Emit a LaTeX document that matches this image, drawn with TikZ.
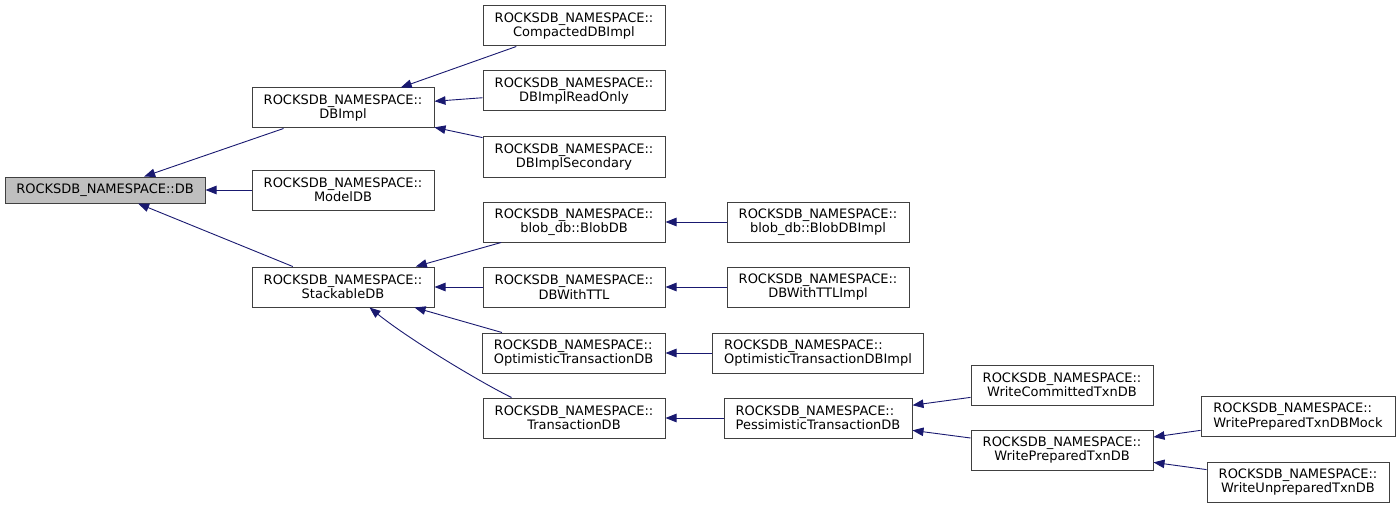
\documentclass[tikz,border=0pt]{standalone}
\usepackage{fontspec}
\setmainfont{DejaVu Sans}
\usetikzlibrary{arrows.meta,calc}
\definecolor{edgeblue}{RGB}{25,25,112}
\definecolor{boxline}{RGB}{64,64,64}
\definecolor{dbgray}{RGB}{191,191,191}
\begin{document}
\begin{tikzpicture}[x=1pt,y=-1pt,
  box/.style={draw=boxline, line width=1pt, fill=white, rectangle, inner sep=0pt,
    minimum width=182pt, minimum height=40pt, align=center,
    font=\fontsize{13}{14.5}\selectfont},
  lbox/.style={box, align=left},
  inh/.style={draw=edgeblue, line width=0.9pt, -{Triangle[length=11pt,width=8.5pt,fill=edgeblue]}}]
\useasboundingbox (0,0) rectangle (1400,508);
\node[box, fill=dbgray, minimum width=200pt, minimum height=26pt] (db) at (105,190) {ROCKSDB\_NAMESPACE::DB};
\node[box] (dbimpl) at (343,108) {ROCKSDB\_NAMESPACE::\\DBImpl};
\node[box] (modeldb) at (343,190) {ROCKSDB\_NAMESPACE::\\ModelDB};
\node[box] (stack) at (343,287) {ROCKSDB\_NAMESPACE::\\StackableDB};
\node[box] (compacted) at (574,26) {ROCKSDB\_NAMESPACE::\\CompactedDBImpl};
\node[box] (readonly) at (574,91) {ROCKSDB\_NAMESPACE::\\DBImplReadOnly};
\node[box] (secondary) at (574,157) {ROCKSDB\_NAMESPACE::\\DBImplSecondary};
\node[box] (blobdb) at (574,222) {ROCKSDB\_NAMESPACE::\\blob\_db::BlobDB};
\node[box] (ttl) at (574,287) {ROCKSDB\_NAMESPACE::\\DBWithTTL};
\node[lbox, minimum width=183pt] (optim) at (573.5,353) {ROCKSDB\_NAMESPACE::\\OptimisticTransactionDB};
\node[box] (trans) at (574,418) {ROCKSDB\_NAMESPACE::\\TransactionDB};
\node[box] (blobimpl) at (818,222) {ROCKSDB\_NAMESPACE::\\blob\_db::BlobDBImpl};
\node[box] (ttlimpl) at (818,287) {ROCKSDB\_NAMESPACE::\\DBWithTTLImpl};
\node[lbox, minimum width=211pt] (optimimpl) at (818,353) {ROCKSDB\_NAMESPACE::\\OptimisticTransactionDBImpl};
\node[lbox, minimum width=188pt] (pessim) at (818,418) {ROCKSDB\_NAMESPACE::\\PessimisticTransactionDB};
\node[box] (wcommit) at (1062,385) {ROCKSDB\_NAMESPACE::\\WriteCommittedTxnDB};
\node[box] (wprep) at (1062,450) {ROCKSDB\_NAMESPACE::\\WritePreparedTxnDB};
\node[lbox, minimum width=194pt] (wmock) at (1298,416.5) {ROCKSDB\_NAMESPACE::\\WritePreparedTxnDBMock};
\node[box] (wunprep) at (1298,482) {ROCKSDB\_NAMESPACE::\\WriteUnpreparedTxnDB};

\draw[inh] (dbimpl) -- (db);
\draw[inh] (modeldb) -- (db);
\draw[inh] (stack) -- (db);
\draw[inh] (compacted) -- (dbimpl);
\draw[inh] (readonly) -- (dbimpl);
\draw[inh] (secondary) -- (dbimpl);
\draw[inh] (blobdb) -- (stack);
\draw[inh] (ttl) -- (stack);
\draw[inh] (optim) -- (stack);
\draw[inh] ($(trans.north west)+(29,0)$) .. controls (480,382) and (410,340) .. ($(stack.south west)+(118,0)$);
\draw[inh] (blobimpl) -- (blobdb);
\draw[inh] (ttlimpl) -- (ttl);
\draw[inh] (optimimpl) -- (optim);
\draw[inh] (pessim) -- (trans);
\draw[inh] (wcommit) -- (pessim);
\draw[inh] (wprep) -- (pessim);
\draw[inh] (wmock) -- (wprep);
\draw[inh] (wunprep) -- (wprep);
\end{tikzpicture}
\end{document}
